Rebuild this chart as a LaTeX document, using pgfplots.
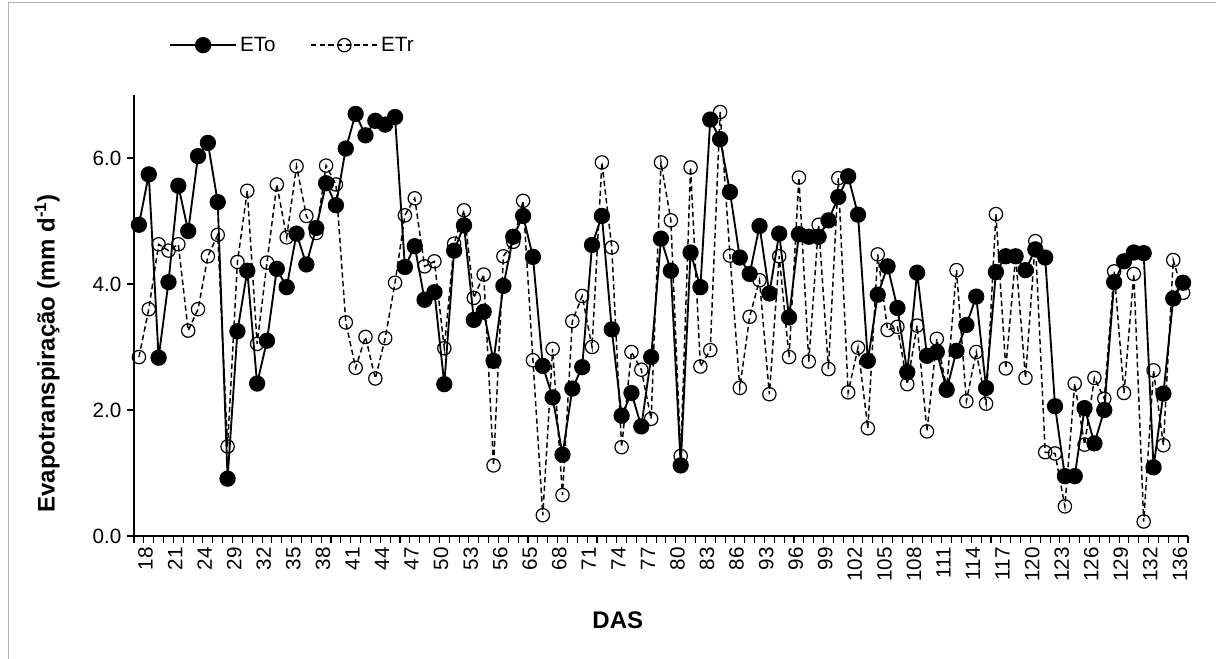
\documentclass[border=0pt]{standalone}
\usepackage{fontspec}
\setmainfont{Liberation Sans}
\usepackage{pgfplots}
\usepackage{pgfplotstable}
\pgfplotsset{compat=1.18}

% Daily reference (ETo) and actual (ETr) evapotranspiration, mm/day,
% indexed by position along the DAS category axis
\pgfplotstableread{
idx eto etr
0 4.94 2.84
1 5.74 3.60
2 2.83 4.63
3 4.03 4.53
4 5.56 4.63
5 4.84 3.26
6 6.03 3.60
7 6.24 4.44
8 5.30 4.78
9 0.91 1.42
10 3.25 4.35
11 4.21 5.48
12 2.42 3.05
13 3.10 4.34
14 4.24 5.58
15 3.95 4.74
16 4.80 5.87
17 4.31 5.08
18 4.89 4.81
19 5.60 5.88
20 5.25 5.58
21 6.15 3.39
22 6.70 2.67
23 6.36 3.16
24 6.59 2.50
25 6.53 3.14
26 6.65 4.02
27 4.27 5.09
28 4.60 5.36
29 3.75 4.28
30 3.87 4.36
31 2.41 2.98
32 4.53 4.64
33 4.93 5.17
34 3.43 3.78
35 3.56 4.15
36 2.78 1.12
37 3.97 4.44
38 4.75 4.67
39 5.08 5.32
40 4.43 2.79
41 2.70 0.33
42 2.20 2.97
43 1.29 0.65
44 2.34 3.41
45 2.68 3.81
46 4.62 3.00
47 5.08 5.93
48 3.28 4.58
49 1.91 1.41
50 2.27 2.92
51 1.74 2.64
52 2.84 1.86
53 4.72 5.93
54 4.21 5.01
55 1.12 1.27
56 4.50 5.85
57 3.95 2.69
58 6.61 2.95
59 6.30 6.73
60 5.46 4.45
61 4.42 2.35
62 4.16 3.48
63 4.92 4.06
64 3.85 2.25
65 4.80 4.44
66 3.47 2.84
67 4.79 5.69
68 4.75 2.77
69 4.75 4.94
70 5.01 2.65
71 5.38 5.68
72 5.71 2.28
73 5.10 2.99
74 2.78 1.71
75 3.83 4.47
76 4.28 3.27
77 3.62 3.32
78 2.60 2.41
79 4.18 3.34
80 2.86 1.66
81 2.92 3.13
82 2.32 2.35
83 2.94 4.22
84 3.35 2.14
85 3.80 2.92
86 2.35 2.10
87 4.19 5.11
88 4.44 2.66
89 4.44 4.44
90 4.22 2.51
91 4.55 4.68
92 4.42 1.33
93 2.06 1.31
94 0.95 0.47
95 0.95 2.42
96 2.03 1.45
97 1.47 2.51
98 2.00 2.18
99 4.03 4.20
100 4.36 2.27
101 4.50 4.16
102 4.49 0.23
103 1.09 2.63
104 2.26 1.44
105 3.77 4.38
106 4.02 3.86
}\evapdata

\begin{document}
\begin{tikzpicture}
\useasboundingbox (0,0) rectangle (912pt,494.25pt);
% chart area frame
\draw[gray!60, line width=0.75pt] (6pt,-2pt) -- (6pt,492pt) -- (914pt,492pt);
\begin{axis}[
  at={(100.5pt,92.25pt)}, anchor=south west,
  scale only axis,
  width=790.5pt, height=330.75pt,
  xmin=-0.5, xmax=106.5,
  ymin=0, ymax=7,
  axis x line=bottom, axis y line=left,
  axis line style={-, line width=1pt},
  tick align=outside,
  major tick length=5pt, minor tick length=5pt,
  tick style={line width=0.8pt, black},
  xtick={0,3,...,105},
  xticklabels={18,21,24,29,32,35,38,41,44,47,50,53,56,65,68,71,74,77,80,83,86,93,96,99,102,105,108,111,114,117,120,123,126,129,132,136},
  major x tick style={draw=none},
  minor xtick={-0.5,0.5,...,106.5},
  ytick={0,2,4,6},
  yticklabels={0.0,2.0,4.0,6.0},
  /pgf/number format/assume math mode=true,
  ticklabel style={font=\fontsize{15.5pt}{18pt}\selectfont},
  xticklabel style={rotate=90, anchor=east, yshift=-5pt},
  yticklabel style={xshift=-1pt},
  xlabel={DAS},
  ylabel={Evapotranspiração (mm d\textsuperscript{-1})},
  label style={font=\bfseries\fontsize{18pt}{21pt}\selectfont},
  xlabel style={at={(axis description cs:0.459,-0.19)}, anchor=center},
  ylabel style={at={(axis description cs:-0.0825,0.414)}, anchor=center},
  legend columns=2,
  legend style={draw=none, fill=none, at={(axis description cs:0.029,1.113)}, anchor=west,
    font=\fontsize{15.5pt}{18pt}\selectfont,
    /tikz/every even column/.append style={column sep=24pt}},
  legend image code/.code={%
    \draw[#1] (0pt,0pt) -- (50pt,0pt);
    \draw[#1, solid] plot coordinates {(25pt,0pt)};},
  clip=false,
]
\addplot[black, line width=1.4pt, mark=*, mark size=5.4pt,
  mark options={solid, fill=black}] table[x=idx, y=eto] {\evapdata};
\addlegendentry{ETo}
\addplot[black, line width=1.1pt, dash pattern=on 4pt off 2.5pt, mark=o, mark size=5pt,
  mark options={solid, line width=0.9pt, fill=none}] table[x=idx, y=etr] {\evapdata};
\addlegendentry{ETr}
\end{axis}
\end{tikzpicture}
\end{document}
